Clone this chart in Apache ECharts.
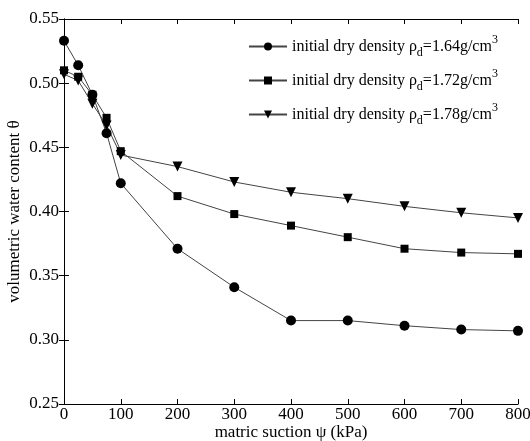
<!DOCTYPE html>
<html>
<head>
  <meta charset="utf-8">
  <title>Soil water characteristic curves</title>
  <script src="https://cdn.jsdelivr.net/npm/echarts@6/dist/echarts.min.js"></script>
</head>
<body style="margin:0">
  <div id="main" style="width:530px;height:441px;"></div>
  <script type="text/javascript">
    var suction = [0, 25, 50, 75, 100, 200, 300, 400, 500, 600, 700, 800];
    var densities = ['1.64', '1.72', '1.78'];
    var theta164 = [0.533, 0.514, 0.491, 0.461, 0.422, 0.371, 0.341, 0.315, 0.315, 0.311, 0.308, 0.307];
    var theta172 = [0.510, 0.505, 0.491, 0.473, 0.447, 0.412, 0.398, 0.389, 0.380, 0.371, 0.368, 0.367];
    var theta178 = [0.507, 0.502, 0.484, 0.467, 0.444, 0.435, 0.423, 0.415, 0.410, 0.404, 0.399, 0.395];

    var font = 'Liberation Serif, Times New Roman, serif';
    var myChart = echarts.init(document.getElementById('main'));

    function pairs(ys) {
      return suction.map(function (x, i) { return [x, ys[i]]; });
    }

    function makeSeries(name, ys, symbol, size, rotate) {
      return {
        name: name,
        type: 'line',
        data: pairs(ys),
        symbol: symbol,
        symbolSize: size,
        symbolRotate: rotate || 0,
        lineStyle: { color: '#444', width: 1 },
        itemStyle: { color: '#000' },
        emphasis: { disabled: true },
        z: 3
      };
    }

    var boxAxis = {
      axisLine: { show: true, lineStyle: { color: '#000', width: 1 } },
      axisTick: { inside: true, length: 5, lineStyle: { color: '#000' } },
      axisLabel: { show: false },
      splitLine: { show: false }
    };

    var option = {
      animation: false,
      grid: { left: 64, right: 12, top: 19, bottom: 37, containLabel: false, outerBoundsMode: 'none' },
      legend: {
        left: 243,
        top: 29,
        orient: 'vertical',
        itemWidth: 38,
        itemHeight: 10,
        itemGap: 9,
        data: densities,
        textStyle: {
          fontFamily: font,
          color: '#000',
          rich: {
            a: { fontFamily: font, fontSize: 16, color: '#000' },
            s: { fontFamily: font, fontSize: 12, color: '#000', padding: [13, 0, 0, 0] },
            p: { fontFamily: font, fontSize: 12, color: '#000', padding: [0, 0, 13, 0] }
          }
        },
        formatter: function (name) {
          return '{a|initial dry density \u03c1}{s|d}{a|=' + name + 'g/cm}{p|3}';
        }
      },
      xAxis: [
        {
          type: 'value',
          min: 0,
          max: 800,
          interval: 100,
          name: 'matric suction \u03c8 (kPa)',
          nameLocation: 'middle',
          nameGap: 20,
          nameMoveOverlap: false,
          nameTextStyle: { fontFamily: font, fontSize: 17, color: '#000' },
          axisLine: { show: true, lineStyle: { color: '#000', width: 1 } },
          axisTick: { inside: true, length: 5, lineStyle: { color: '#000' } },
          axisLabel: { fontFamily: font, fontSize: 17, color: '#000', margin: 2 },
          splitLine: { show: false }
        },
        Object.assign({ type: 'value', position: 'top', min: 0, max: 800, interval: 100 }, boxAxis)
      ],
      yAxis: [
        {
          type: 'value',
          min: 0.25,
          max: 0.55,
          interval: 0.05,
          name: 'volumetric water content \u03b8',
          nameLocation: 'middle',
          nameGap: 41,
          nameMoveOverlap: false,
          nameTextStyle: { fontFamily: font, fontSize: 17, color: '#000' },
          axisLine: { show: true, lineStyle: { color: '#000', width: 1 } },
          axisTick: { inside: true, length: 5, lineStyle: { color: '#000' } },
          axisLabel: {
            fontFamily: font, fontSize: 17, color: '#000', margin: 5,
            formatter: function (v) { return v.toFixed(2); }
          },
          splitLine: { show: false }
        },
        Object.assign({ type: 'value', position: 'right', min: 0.25, max: 0.55, interval: 0.05 }, boxAxis)
      ],
      series: [
        makeSeries(densities[0], theta164, 'circle', 10),
        makeSeries(densities[1], theta172, 'rect', 8),
        makeSeries(densities[2], theta178, 'triangle', 10, 180)
      ]
    };

    myChart.setOption(option);
  </script>
</body>
</html>
